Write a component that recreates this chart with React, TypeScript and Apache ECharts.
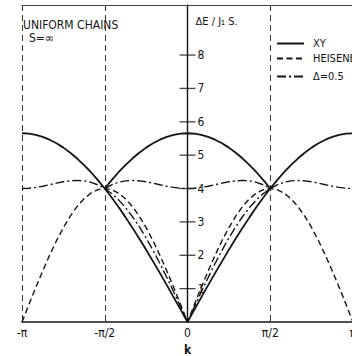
import React, { useEffect, useRef } from "react";
import * as echarts from "echarts";

// k in degrees (-180 = -π ... 180 = π), step π/24
const kDeg = [
  -180, -172.5, -165, -157.5, -150, -142.5, -135, -127.5, -120, -112.5, -105, -97.5,
  -90, -82.5, -75, -67.5, -60, -52.5, -45, -37.5, -30, -22.5, -15, -7.5,
  0, 7.5, 15, 22.5, 30, 37.5, 45, 52.5, 60, 67.5, 75, 82.5,
  90, 97.5, 105, 112.5, 120, 127.5, 135, 142.5, 150, 157.5, 165, 172.5, 180,
];

// XY chain, upper branch (solid)
const xyUpper = [
  5.657, 5.645, 5.608, 5.548, 5.464, 5.357, 5.226, 5.073, 4.899, 4.703, 4.488, 4.253,
  4.0, 4.253, 4.488, 4.703, 4.899, 5.073, 5.226, 5.357, 5.464, 5.548, 5.608, 5.645,
  5.657, 5.645, 5.608, 5.548, 5.464, 5.357, 5.226, 5.073, 4.899, 4.703, 4.488, 4.253,
  4.0, 4.253, 4.488, 4.703, 4.899, 5.073, 5.226, 5.357, 5.464, 5.548, 5.608, 5.645, 5.657,
];

// XY chain, lower branch (solid V between -π/2 and π/2)
const xyLower = [
  null, null, null, null, null, null, null, null, null, null, null, null,
  4.0, 3.73, 3.444, 3.143, 2.828, 2.502, 2.165, 1.818, 1.464, 1.104, 0.738, 0.37,
  0, 0.37, 0.738, 1.104, 1.464, 1.818, 2.165, 2.502, 2.828, 3.143, 3.444, 3.73,
  4.0, null, null, null, null, null, null, null, null, null, null, null, null,
];

// Heisenberg chain (dashed)
const heisenberg = [
  0, 0.522, 1.035, 1.531, 2.0, 2.435, 2.828, 3.173, 3.464, 3.696, 3.864, 3.966,
  4.0, 3.966, 3.864, 3.696, 3.464, 3.173, 2.828, 2.435, 2.0, 1.531, 1.035, 0.522,
  0, 0.522, 1.035, 1.531, 2.0, 2.435, 2.828, 3.173, 3.464, 3.696, 3.864, 3.966,
  4.0, 3.966, 3.864, 3.696, 3.464, 3.173, 2.828, 2.435, 2.0, 1.531, 1.035, 0.522, 0,
];

// Δ = 0.5, upper branch (dash-dot)
const delta05Upper = [
  4.0, 4.008, 4.033, 4.07, 4.114, 4.161, 4.202, 4.231, 4.243, 4.23, 4.187, 4.112,
  4.0, 4.112, 4.187, 4.23, 4.243, 4.231, 4.202, 4.161, 4.114, 4.07, 4.033, 4.008,
  4.0, 4.008, 4.033, 4.07, 4.114, 4.161, 4.202, 4.231, 4.243, 4.23, 4.187, 4.112,
  4.0, 4.112, 4.187, 4.23, 4.243, 4.231, 4.202, 4.161, 4.114, 4.07, 4.033, 4.008, 4.0,
];

// Δ = 0.5, lower branch (dash-dot V between -π/2 and π/2)
const delta05Lower = [
  null, null, null, null, null, null, null, null, null, null, null, null,
  4.0, 3.85, 3.66, 3.43, 3.162, 2.858, 2.519, 2.149, 1.753, 1.334, 0.899, 0.453,
  0, 0.453, 0.899, 1.334, 1.753, 2.149, 2.519, 2.858, 3.162, 3.43, 3.66, 3.85,
  4.0, null, null, null, null, null, null, null, null, null, null, null, null,
];

const yTicks = [1, 2, 3, 4, 5, 6, 7, 8];
const xTickLabels: Record<string, string> = {
  "-180": "-π",
  "-90": "-π/2",
  "0": "0",
  "90": "π/2",
  "180": "π",
};
const seriesNames = ["XY", "HEISENBERG", "Δ=0.5"];

const FONT = "'DejaVu Sans Condensed', 'Liberation Sans', Arial, sans-serif";
const INK = "#141414";

// layout
const GRID_LEFT = 22;
const GRID_RIGHT = -1;
const WIDTH = 352;
const HEIGHT = 356;

function pairs(values: (number | null)[]) {
  return kDeg
    .map((k, i) => (values[i] == null ? null : [k, values[i] as number]))
    .filter((p) => p !== null) as number[][];
}

export default function App() {
  const ref = useRef<HTMLDivElement>(null);
  useEffect(() => {
    if (!ref.current) return;
    const chart = echarts.init(ref.current, undefined, { renderer: "svg" });
    const solid = { color: INK, width: 1.8, type: "solid" as const };
    const dashed = { color: INK, width: 1.4, type: [6, 3.5] as any };
    const dashDot = { color: INK, width: 1.4, type: [9, 3, 2, 3] as any };
    const lineBase = {
      type: "line" as const,
      showSymbol: false,
      symbol: "none",
      smooth: false,
      silent: true,
      clip: true,
    };
    const plotWidth = WIDTH - GRID_LEFT - GRID_RIGHT;
    const legendCommon = {
      left: 276,
      orient: "vertical" as const,
      itemWidth: 27,
      itemHeight: 8,
      itemGap: 7,
      padding: 0,
      itemStyle: { opacity: 0 },
      textStyle: { fontFamily: FONT, fontSize: 11, color: INK, padding: [0, 0, 0, 4] },
      selectedMode: false,
    };
    chart.setOption({
      animation: false,
      backgroundColor: "#ffffff",
      grid: {
        left: GRID_LEFT,
        right: GRID_RIGHT,
        top: 5,
        bottom: 34,
        containLabel: false,
        outerBoundsMode: "none",
      },
      xAxis: [
        {
          type: "value",
          min: -180,
          max: 180,
          interval: 90,
          name: "k",
          nameLocation: "middle",
          nameGap: 22,
          nameTextStyle: { fontFamily: FONT, fontSize: 12, color: INK, fontWeight: "bold" },
          axisLine: { onZero: false, lineStyle: { color: INK, width: 1.6 } },
          axisTick: { show: false },
          axisLabel: {
            margin: 5,
            fontFamily: FONT,
            fontSize: 12,
            color: INK,
            showMaxLabel: true,
            showMinLabel: true,
            formatter: (v: number) => xTickLabels[String(v)] ?? "",
          },
          splitLine: {
            show: true,
            lineStyle: { color: "#333", width: 1, type: [6, 4] },
          },
        },
        {
          type: "value",
          position: "top",
          min: -180,
          max: 180,
          interval: 90,
          axisLine: { show: true, onZero: false, lineStyle: { color: "#444", width: 1.2 } },
          axisTick: { show: false },
          axisLabel: { show: false },
          splitLine: { show: false },
        },
      ],
      yAxis: {
        type: "value",
        min: 0,
        max: 9.5,
        interval: 1,
        position: "left",
        offset: -plotWidth / 2,
        name: "ΔE / J\u2081 S.",
        nameLocation: "end",
        nameGap: -22,
        nameTextStyle: {
          fontFamily: FONT,
          fontSize: 11,
          color: INK,
          align: "left",
          padding: [0, 0, 0, 8],
        },
        axisLine: { show: true, onZero: false, lineStyle: { color: INK, width: 1.4 } },
        axisTick: { show: false },
        axisLabel: {
          inside: true,
          margin: 10,
          fontFamily: FONT,
          fontSize: 12,
          color: INK,
          formatter: (v: number) => (yTicks.includes(v) ? String(v) : ""),
        },
        splitLine: { show: false },
      },
      legend: [
        { ...legendCommon, data: [seriesNames[0]], top: 38 },
        { ...legendCommon, data: [seriesNames[1], seriesNames[2]], top: 53 },
      ],
      graphic: [
        {
          type: "text",
          left: 23,
          top: 19,
          style: { text: "UNIFORM CHAINS", font: `12px ${FONT}`, fill: INK },
        },
        {
          type: "text",
          left: 29,
          top: 32,
          style: { text: "S=∞", font: `12px ${FONT}`, fill: INK },
        },
      ],
      series: [
        { ...lineBase, name: seriesNames[0], data: pairs(xyUpper), lineStyle: solid, itemStyle: { color: INK } },
        { ...lineBase, name: seriesNames[0], data: pairs(xyLower), lineStyle: solid, itemStyle: { color: INK } },
        { ...lineBase, name: seriesNames[1], data: pairs(heisenberg), lineStyle: dashed, itemStyle: { color: INK } },
        { ...lineBase, name: seriesNames[2], data: pairs(delta05Upper), lineStyle: dashDot, itemStyle: { color: INK } },
        { ...lineBase, name: seriesNames[2], data: pairs(delta05Lower), lineStyle: dashDot, itemStyle: { color: INK } },
        {
          type: "scatter",
          name: "ticks",
          silent: true,
          data: yTicks.map((v) => [0, v]),
          symbol: "rect",
          symbolSize: [16, 1.3],
          itemStyle: { color: INK },
          z: 5,
        },
      ],
    });
    return () => chart.dispose();
  }, []);
  return (
    <div
      ref={ref}
      style={{ position: "fixed", left: 0, top: 0, width: WIDTH, height: HEIGHT, background: "#fff" }}
    />
  );
}
